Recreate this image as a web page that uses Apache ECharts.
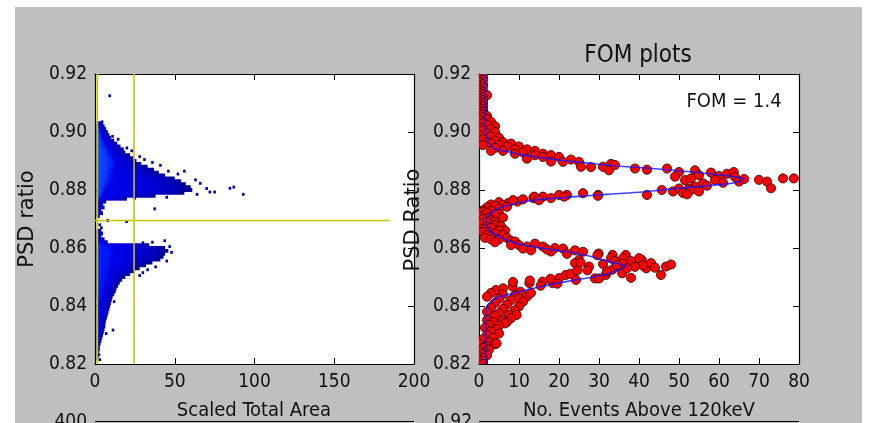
<!DOCTYPE html>
<html>
<head>
<meta charset="utf-8">
<script src="https://cdn.jsdelivr.net/npm/echarts@6/dist/echarts.min.js"></script>
<style>
  html, body { margin: 0; padding: 0; background: #ffffff; }
  #figure { position: absolute; left: 15px; top: 7px; width: 847px; height: 416px; background: #bfbfbf; }
  #chart { position: absolute; left: 0; top: 0; width: 875px; height: 423px; }
</style>
</head>
<body>
<div id="figure"></div>
<div id="chart"></div>
<script>
// ---------------- Left panel: PSD ratio vs scaled total area (2D histogram) ----------------
// Each row is one PSD bin (0.001 wide); edge = right end of the occupied cells,
// core = right end of the denser (lighter) cells.
const upperRowPsd = [0.903, 0.902, 0.901, 0.900, 0.899, 0.898, 0.897, 0.896, 0.895, 0.894,
  0.893, 0.892, 0.891, 0.890, 0.889, 0.888, 0.887, 0.886, 0.885, 0.884,
  0.883, 0.882, 0.881, 0.880, 0.879, 0.878, 0.877, 0.876, 0.875, 0.874,
  0.873, 0.872, 0.871];
const upperRowEdge = [5, 6, 7, 8, 9, 10, 12, 14, 16, 18,
  19, 22, 24, 26, 29, 33, 37, 40, 44, 50,
  54, 57, 60, 61, 56, 38, 20, 7, 5, 6,
  4, 5, 3];
const upperRowCore = [0, 0, 3, 3, 4, 4, 5, 6, 7, 8,
  9, 10, 11, 12, 12, 12, 11, 11, 10, 10,
  9, 8, 7, 6, 5, 4, 0, 0, 0, 0,
  0, 0, 0];

const lowerRowPsd = [0.866, 0.865, 0.864, 0.863, 0.862, 0.861, 0.860, 0.859, 0.858, 0.857,
  0.856, 0.855, 0.854, 0.853, 0.852, 0.851, 0.850, 0.849, 0.848, 0.847,
  0.846, 0.845, 0.844, 0.843, 0.842, 0.841, 0.840, 0.839, 0.838, 0.837,
  0.836, 0.835, 0.834, 0.833, 0.832, 0.831, 0.830, 0.829, 0.828, 0.827,
  0.826, 0.825, 0.824, 0.823, 0.822];
const lowerRowEdge = [4, 5, 4, 6, 8, 34, 44, 46, 44, 43,
  41, 36, 32, 28, 25, 22, 19, 17, 15.5, 14.5,
  13.5, 13, 12, 11, 10.5, 10, 9.5, 9, 8.5, 8,
  7.5, 7, 6.5, 6.5, 6, 5.5, 5, 4.5, 4, 3.5,
  3, 3, 2.5, 2.5, 2];
const lowerRowCore = [0, 0, 0, 0, 0, 6, 9, 10, 11, 11,
  10, 10, 9, 9, 8, 8, 7, 7, 6, 6,
  5, 5, 4, 4, 0, 0, 0, 0, 0, 0,
  0, 0, 0, 0, 0, 0, 0, 0, 0, 0,
  0, 0, 0, 0, 0];

// Isolated cells outside the dense bands: [scaled area, psd]
const strayCells = [[9.2, 0.9125], [4.5, 0.9035], [11, 0.8985], [14.5, 0.8975], [20, 0.8945],
  [23, 0.8935], [28, 0.8915], [31, 0.8905], [36, 0.8895], [41, 0.8885], [46, 0.8865],
  [52, 0.8855], [56, 0.8865], [63, 0.8835], [66, 0.8823], [70, 0.8805], [72, 0.8793],
  [75, 0.8793], [84.6, 0.8806], [87, 0.881], [93, 0.8785], [64, 0.8785], [45, 0.8775],
  [25, 0.8772], [37.4, 0.8735], [19.8, 0.8691], [3, 0.868], [4, 0.867], [8, 0.8695],
  [30, 0.8618], [36, 0.862], [43.7, 0.8625], [46.8, 0.8605], [48, 0.8585], [45, 0.8555],
  [38, 0.8535], [33, 0.8525], [30, 0.8515], [28, 0.8505], [12, 0.8415], [11.3, 0.8317],
  [7, 0.8305], [3, 0.8215], [2.5, 0.8232]];

// Selection cuts
const areaCutLow = 1.5;
const areaCutHigh = 24.5;
const psdCut = 0.8695;
const psdCutAreaEnd = 185;

// ---------------- Right panel: PSD histogram and double-peak fit ----------------
// [events, psd ratio]
const fomTopColumn = [[0, 0.9195], [1, 0.919], [0, 0.9185], [1, 0.918], [0, 0.9175], [0, 0.917],
  [1, 0.9165], [0, 0.916], [1, 0.9155], [0, 0.915], [0, 0.9145], [1, 0.914], [0, 0.9135],
  [1, 0.913], [2, 0.9127], [0, 0.9125], [1, 0.912], [0, 0.9115], [1, 0.911], [0, 0.9105],
  [1, 0.91], [0, 0.9095], [1, 0.909], [0, 0.9085], [1, 0.908], [0, 0.9075], [1, 0.907],
  [0, 0.9065], [1, 0.906], [2, 0.9055]];
const fomUpperPeak = [[1, 0.905], [2, 0.9045], [0, 0.904], [3, 0.9035], [1, 0.903], [2, 0.9025],
  [4, 0.902], [0, 0.9015], [3, 0.901], [1, 0.9005], [4, 0.9], [2, 0.8995], [0, 0.899],
  [3, 0.8985], [5, 0.898], [1, 0.8975], [4, 0.897], [2, 0.8965], [6, 0.8965], [3, 0.896],
  [8, 0.896], [5, 0.8955], [1, 0.8955], [7, 0.895], [10, 0.895], [4, 0.8945], [9, 0.894],
  [12, 0.894], [6, 0.8935], [14, 0.8935], [11, 0.893], [3, 0.8935], [16, 0.8925], [9, 0.8925],
  [14, 0.892], [18, 0.892], [16, 0.8914], [20, 0.8914], [12, 0.8908], [18, 0.8898], [21, 0.8897],
  [25, 0.8897], [23, 0.8905], [25.5, 0.888], [28, 0.8879], [31, 0.888], [33, 0.889], [32.5, 0.8868],
  [34, 0.8886], [39, 0.8874], [42, 0.887], [47, 0.8874], [50, 0.8862], [49, 0.8846], [51.5, 0.8834],
  [54, 0.8868], [55, 0.8851], [53, 0.884], [56, 0.8823], [58, 0.886], [60, 0.8848], [59, 0.8835],
  [62, 0.8856], [61, 0.8825], [63.7, 0.8862], [64, 0.8845], [65, 0.8829], [66.3, 0.8838],
  [57, 0.8815], [54, 0.8812], [52.5, 0.8805], [70, 0.8835], [72, 0.8829], [73, 0.8806],
  [76, 0.884], [78.7, 0.884]];
const fomUpperFall = [[45.7, 0.88], [42, 0.8783], [48.5, 0.8795], [50, 0.8805], [51, 0.879],
  [53, 0.88], [55, 0.8795], [52, 0.8785], [29.8, 0.8783], [26, 0.8789], [22, 0.8783], [20, 0.8783],
  [16, 0.8777], [13.6, 0.8772], [9.6, 0.876], [7.3, 0.8755], [13.8, 0.8777], [21.3, 0.8777],
  [29.7, 0.878], [18, 0.8772], [11, 0.8768], [15, 0.8765], [8.5, 0.8765], [5, 0.8758], [3, 0.875]];
const fomValley = [[6, 0.8748], [4, 0.8745], [2, 0.874], [7, 0.8742], [5, 0.8735], [1, 0.873],
  [3, 0.8728], [1, 0.8725], [5, 0.8718], [2, 0.872], [4, 0.8715], [0, 0.871], [6, 0.8705],
  [2.5, 0.8705], [1, 0.87], [3, 0.8695], [4, 0.869], [2, 0.869], [0, 0.8685], [4, 0.868],
  [5.5, 0.8675], [2, 0.8675], [3, 0.867], [1, 0.8665], [6.5, 0.866], [5, 0.866], [1, 0.8655],
  [2.5, 0.8655], [4, 0.865], [2, 0.8645], [6, 0.8645], [3, 0.864], [1.5, 0.8635], [7, 0.8635],
  [3, 0.863], [5, 0.863], [8, 0.8625], [4, 0.862]];
const fomLowerRise = [[9, 0.8622], [10, 0.861], [12, 0.8605], [14, 0.8615], [16, 0.8605], [19, 0.86],
  [21, 0.8598], [18, 0.8588], [24, 0.8592], [22, 0.858], [17, 0.8595], [11, 0.8598], [8, 0.861],
  [13, 0.8592], [26, 0.8587], [29.9, 0.8581], [33.4, 0.8576], [36.7, 0.8576], [25, 0.8559],
  [38.3, 0.8548], [40.7, 0.8559], [35, 0.8536], [33, 0.8565], [36, 0.8565], [38, 0.8555],
  [40, 0.8565], [34, 0.8555], [36, 0.8545]];
const fomLowerPeak = [[41.8, 0.853], [46.75, 0.8536], [45.5, 0.8507], [38, 0.8497], [33.3, 0.8525],
  [35.8, 0.8513], [31.7, 0.8507], [29, 0.8495], [27.5, 0.8536], [24, 0.8548], [43, 0.8548],
  [41, 0.854], [39, 0.8535], [37, 0.853], [34.5, 0.854], [31, 0.8545], [32, 0.852], [48, 0.8543],
  [44, 0.8532], [20, 0.8496], [24.25, 0.849], [15.9, 0.8484], [12.6, 0.8479], [8.4, 0.8467],
  [4.25, 0.8455], [18.4, 0.8479], [21.7, 0.8507], [30, 0.8495], [6, 0.8461], [8.5, 0.8483],
  [12.7, 0.8488], [10.4, 0.8449], [15.4, 0.847], [17.9, 0.8494], [19.6, 0.8477], [22.9, 0.8511],
  [24.6, 0.8523], [27.1, 0.8523], [25.4, 0.855], [29.6, 0.8575]];
const fomLowerTail = [[3, 0.8445], [6, 0.844], [9, 0.8437], [12, 0.8433], [13, 0.8445], [2, 0.8432],
  [5, 0.8425], [10, 0.8425], [8, 0.842], [11, 0.8415], [4, 0.841], [7, 0.8405], [10, 0.8398],
  [3, 0.8395], [6, 0.839], [9, 0.8385], [2, 0.838], [5, 0.8375], [7.5, 0.837], [9.4, 0.8369],
  [4, 0.8365], [8, 0.8358], [6, 0.835], [2, 0.8352], [3.5, 0.8345], [7, 0.8345], [6.5, 0.834],
  [5, 0.8332], [2.5, 0.8335], [4.5, 0.832], [1.5, 0.8325], [3, 0.8312], [5, 0.8305], [2, 0.83],
  [3.5, 0.829], [1, 0.8285], [2.5, 0.8275], [4, 0.8268], [4.4, 0.8271], [0, 0.827], [2, 0.826],
  [1, 0.8255], [2.5, 0.825], [0, 0.8245], [1.5, 0.824], [1, 0.8235], [2, 0.823], [0, 0.8225],
  [1, 0.822], [0, 0.8215], [1, 0.821], [0, 0.8205], [1, 0.82]];

// Fitted curve: [events, psd ratio]
const fitCurve = [[1.3, 0.92], [1.5, 0.91], [1.6, 0.903], [1.8, 0.899], [2.4, 0.8965],
  [3.4, 0.8948], [5, 0.8938], [7.5, 0.8931], [10.5, 0.8922], [14.25, 0.8914], [19, 0.8905],
  [24.25, 0.8897], [29, 0.889], [34.25, 0.8883], [43.4, 0.8874], [53.4, 0.8862], [61, 0.8851],
  [65, 0.8843], [66.3, 0.8837], [65, 0.8829], [62.6, 0.8822], [58, 0.8816], [53.4, 0.881],
  [47, 0.8802], [40.9, 0.8793], [32, 0.8785], [24.25, 0.8777], [18.5, 0.8771], [14.25, 0.8766],
  [10.5, 0.8758], [7.6, 0.8748], [5, 0.8737], [3.4, 0.8725], [2.2, 0.871], [1.75, 0.8697],
  [2, 0.8678], [2.6, 0.8662], [3.6, 0.865], [5.1, 0.8639], [7, 0.8627], [9.25, 0.8616],
  [12.5, 0.8607], [15.9, 0.8599], [20, 0.8591], [24.25, 0.8582], [28, 0.8571], [30.9, 0.8559],
  [34, 0.8548], [36.8, 0.8537], [35, 0.8525], [32.6, 0.8513], [28.5, 0.85], [24.25, 0.849],
  [18, 0.8474], [11.75, 0.8455], [7.5, 0.844], [4.25, 0.8427], [2.6, 0.8409], [1.9, 0.839],
  [1.75, 0.835], [1.7, 0.82]];
const fomText = 'FOM = 1.4';

// ---------------- Chart ----------------
const FONT_C = '"DejaVu Sans Condensed", "DejaVu Sans", sans-serif';
const FONT = '"DejaVu Sans", sans-serif';
const INK = '#111111';
const ROW_H = 0.001;
const ROW_X0 = 1.0;

const histRows = [];
upperRowPsd.forEach((p, i) => histRows.push([p, upperRowEdge[i], 0]));
lowerRowPsd.forEach((p, i) => histRows.push([p, lowerRowEdge[i], 0]));
upperRowPsd.forEach((p, i) => { if (upperRowCore[i] > 0) histRows.push([p, upperRowCore[i], 1]); });
lowerRowPsd.forEach((p, i) => { if (lowerRowCore[i] > 0) histRows.push([p, lowerRowCore[i], 2]); });

const edgeFill = new echarts.graphic.LinearGradient(0, 0, 1, 0, [
  { offset: 0, color: '#0008ee' }, { offset: 0.55, color: '#0000dc' },
  { offset: 0.85, color: '#0000b8' }, { offset: 1, color: '#000088' }]);
const coreFillUpper = new echarts.graphic.LinearGradient(0, 0, 1, 0, [
  { offset: 0, color: '#1450ff' }, { offset: 0.6, color: '#0a38ff' }, { offset: 1, color: '#0010f0' }]);
const coreFillLower = new echarts.graphic.LinearGradient(0, 0, 1, 0, [
  { offset: 0, color: '#0826ff' }, { offset: 1, color: '#000cf0' }]);

function xAxisDef(gridIndex, max, interval, position) {
  return {
    type: 'value', gridIndex, min: 0, max, interval, position,
    axisLine: { show: true, onZero: false, lineStyle: { color: '#000', width: 1.2 } },
    axisTick: { show: true, inside: true, length: 6, lineStyle: { color: '#000', width: 1 } },
    axisLabel: { show: position === 'bottom', color: INK, fontSize: 19, fontFamily: FONT_C, margin: 9 },
    splitLine: { show: false }
  };
}
function yAxisDef(gridIndex, position) {
  return {
    type: 'value', gridIndex, min: 0.82, max: 0.92, interval: 0.02, position,
    axisLine: { show: true, onZero: false, lineStyle: { color: '#000', width: 1.2 } },
    axisTick: { show: true, inside: true, length: 6, lineStyle: { color: '#000', width: 1 } },
    axisLabel: { show: position === 'left', color: INK, fontSize: 19, fontFamily: FONT_C, margin: 8,
      formatter: v => v.toFixed(2) },
    splitLine: { show: false }
  };
}

const circleItem = (params, api) => {
  const c = api.coord([api.value(0), api.value(1)]);
  return { type: 'circle', shape: { cx: c[0], cy: c[1], r: 4.6 },
    style: { fill: '#ff0000', stroke: 'rgba(30,0,0,0.95)', lineWidth: 0.8 } };
};

const option = {
  backgroundColor: 'transparent',
  animation: false,
  grid: [
    { left: 95, top: 74, width: 319, height: 290, show: true, backgroundColor: '#ffffff', borderWidth: 0 },
    { left: 479, top: 74, width: 320, height: 290, show: true, backgroundColor: '#ffffff', borderWidth: 0 }
  ],
  xAxis: [
    xAxisDef(0, 200, 50, 'bottom'), xAxisDef(0, 200, 50, 'top'),
    xAxisDef(1, 80, 10, 'bottom'), xAxisDef(1, 80, 10, 'top')
  ],
  yAxis: [
    yAxisDef(0, 'left'), yAxisDef(0, 'right'),
    yAxisDef(1, 'left'), yAxisDef(1, 'right')
  ],
  series: [
    {
      type: 'custom', name: 'histogram rows', xAxisIndex: 0, yAxisIndex: 0, clip: true,
      encode: { x: 1, y: 0 }, data: histRows, z: 2,
      renderItem: (params, api) => {
        const psd = api.value(0), xEnd = api.value(1), kind = api.value(2);
        const a = api.coord([ROW_X0, psd + ROW_H / 2]);
        const b = api.coord([xEnd, psd - ROW_H / 2]);
        const fill = kind === 0 ? edgeFill : (kind === 1 ? coreFillUpper : coreFillLower);
        // slight vertical overlap so neighbouring rows join without seams
        return { type: 'rect', shape: { x: a[0], y: a[1] - 0.5, width: b[0] - a[0], height: b[1] - a[1] + 1 },
          style: { fill } };
      }
    },
    {
      type: 'custom', name: 'stray cells', xAxisIndex: 0, yAxisIndex: 0, clip: true,
      data: strayCells, z: 3,
      renderItem: (params, api) => {
        const a = api.coord([api.value(0) - 0.8, api.value(1) + ROW_H / 2]);
        const b = api.coord([api.value(0) + 0.8, api.value(1) - ROW_H / 2]);
        return { type: 'rect', shape: { x: a[0], y: a[1], width: b[0] - a[0], height: b[1] - a[1] },
          style: { fill: '#00009c' } };
      }
    },
    {
      type: 'line', xAxisIndex: 0, yAxisIndex: 0, z: 4, showSymbol: false, silent: true,
      data: [[areaCutLow, 0.82], [areaCutLow, 0.92]],
      lineStyle: { color: '#c4c400', width: 1.6 }
    },
    {
      type: 'line', xAxisIndex: 0, yAxisIndex: 0, z: 4, showSymbol: false, silent: true,
      data: [[areaCutHigh, 0.82], [areaCutHigh, 0.92]],
      lineStyle: { color: '#c4c400', width: 1.6 }
    },
    {
      type: 'line', xAxisIndex: 0, yAxisIndex: 0, z: 4, showSymbol: false, silent: true,
      data: [[0, psdCut], [psdCutAreaEnd, psdCut]],
      lineStyle: { color: '#c4c400', width: 1.6 }
    },
    {
      type: 'custom', name: 'events', xAxisIndex: 2, yAxisIndex: 2, clip: true, z: 3,
      data: [].concat(fomTopColumn, fomUpperPeak, fomUpperFall, fomValley,
        fomLowerRise, fomLowerPeak, fomLowerTail),
      renderItem: circleItem
    },
    {
      type: 'line', name: 'fit', xAxisIndex: 2, yAxisIndex: 2, z: 5, showSymbol: false,
      smooth: 0.25, data: fitCurve, silent: true,
      lineStyle: { color: 'rgba(20,20,255,0.8)', width: 1.6 }
    }
  ],
  graphic: [
    { type: 'text', x: 638, y: 56, style: { text: 'FOM plots', font: '24px ' + FONT_C, fill: INK,
      align: 'center', verticalAlign: 'middle' } },
    { type: 'text', x: 734, y: 102, style: { text: fomText, font: '20px ' + FONT_C, fill: INK,
      align: 'center', verticalAlign: 'middle' } },
    { type: 'text', x: 254, y: 411, style: { text: 'Scaled Total Area', font: '20px ' + FONT_C, fill: INK,
      align: 'center', verticalAlign: 'middle' } },
    { type: 'text', x: 639, y: 411, style: { text: 'No. Events Above 120keV', font: '20px ' + FONT_C, fill: INK,
      align: 'center', verticalAlign: 'middle' } },
    { type: 'text', x: 28, y: 219, rotation: Math.PI / 2, style: { text: 'PSD ratio', font: '21px ' + FONT,
      fill: INK, align: 'center', verticalAlign: 'middle' } },
    { type: 'text', x: 414, y: 220, rotation: Math.PI / 2, style: { text: 'PSD Ratio', font: '21px ' + FONT,
      fill: INK, align: 'center', verticalAlign: 'middle' } },
    // tops of the next row of panels
    { type: 'text', x: 87, y: 422, style: { text: '400', font: '19px ' + FONT_C, fill: INK,
      align: 'right', verticalAlign: 'middle' } },
    { type: 'text', x: 472, y: 422, style: { text: '0.92', font: '19px ' + FONT_C, fill: INK,
      align: 'right', verticalAlign: 'middle' } },
    { type: 'line', shape: { x1: 95, y1: 421.5, x2: 414, y2: 421.5 }, style: { stroke: '#000', lineWidth: 1.2 } },
    { type: 'line', shape: { x1: 479, y1: 421.5, x2: 799, y2: 421.5 }, style: { stroke: '#000', lineWidth: 1.2 } }
  ]
};

const chart = echarts.init(document.getElementById('chart'), null, { renderer: 'canvas' });
chart.setOption(option);
</script>
</body>
</html>
